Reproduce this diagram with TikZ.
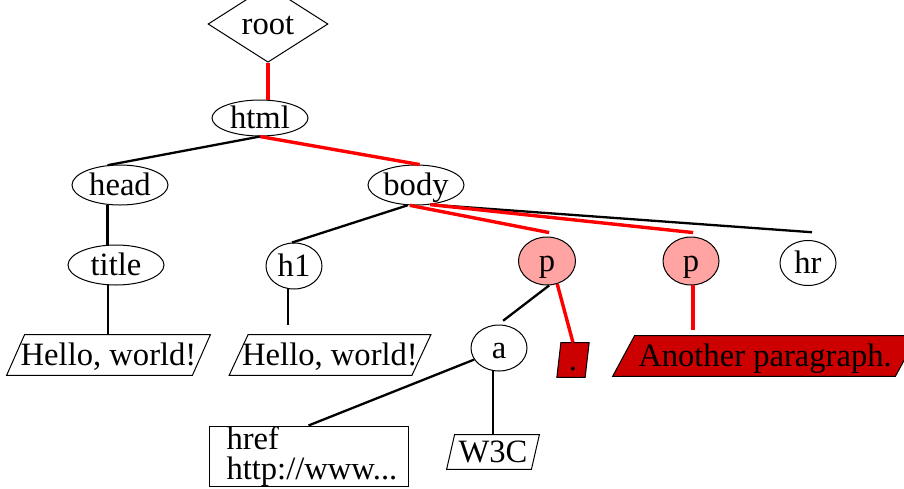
\documentclass[tikz,border=0pt]{standalone}
\usepackage{fontspec}
\setmainfont{Liberation Serif}
\usetikzlibrary{shapes.geometric,backgrounds,calc}
\definecolor{pfill}{RGB}{255,163,163}
\definecolor{dred}{RGB}{204,0,0}
\newcommand\paraoutline[3]{%
  \draw[#3] ([xshift=#2]#1.north west) -- ([xshift=#2]#1.north east) --
    ([xshift=-#2]#1.south east) -- ([xshift=-#2]#1.south west) -- cycle;}
\begin{document}
\begin{tikzpicture}[x=0.5pt,y=-0.5pt,
  every node/.style={font=\fontsize{16.3}{15}\selectfont, inner sep=0pt},
  el/.style={ellipse, draw, line width=0.5pt, text height=11pt, text depth=1pt},
  hl/.style={el, fill=pfill},
  txt/.style={rectangle, text height=11pt, text depth=1pt},
  bk/.style={draw=black, line width=1.15pt},
  rd/.style={draw=red, line width=1.7pt},
  outl/.style={draw=black, line width=0.5pt}]
\useasboundingbox (0,0) rectangle (904,488);
% tree nodes
\node[diamond, draw, line width=0.5pt, minimum width=60pt, minimum height=19pt,
      text height=11pt, text depth=1pt] (root) at (268,24) {root};
\node[el, minimum width=48pt, minimum height=18pt] (html) at (260,118) {html};
\node[el, minimum width=48pt, minimum height=20pt] (head) at (120,185) {head};
\node[el, minimum width=48pt, minimum height=20pt] (body) at (416,185) {body};
\node[el, minimum width=48pt, minimum height=20pt] (title) at (116,265) {title};
\node[el, minimum width=28pt, minimum height=23pt] (h1) at (294,266) {h1};
\node[hl, minimum width=28.5pt, minimum height=24pt] (p1) at (547,261) {p};
\node[hl, minimum width=28pt, minimum height=24pt] (p2) at (691,261) {p};
\node[el, minimum width=28pt, minimum height=22.5pt] (hr) at (808,263) {hr};
\node[el, minimum width=28pt, minimum height=23pt] (a) at (499,348) {a};
% text leaves
\node[txt, minimum width=92.5pt, minimum height=20pt] (hello1) at (108.5,355) {Hello, world!};
\node[txt, minimum width=91pt, minimum height=20pt] (hello2) at (330,355) {Hello, world!};
\node[txt, minimum width=13.75pt, minimum height=17pt] (dot) at (573,360) {.};
\node[txt, minimum width=141pt, minimum height=20pt] (another) at (765,356) {Another paragraph.};
\node[txt, minimum width=42pt, minimum height=17pt] (w3c) at (493,452) {W3C};
\node[draw, line width=0.5pt, minimum height=30pt, text width=82pt, inner xsep=8.75pt,
      align=left] (href) at (308.5,456) {href\\http://www...};
\begin{pgfonlayer}{background}
\fill[white] (0,0) rectangle (904,488);
\paraoutline{hello1}{4.5pt}{outl, fill=white}
\paraoutline{hello2}{4.75pt}{outl, fill=white}
\paraoutline{dot}{1pt}{outl, fill=dred}
\paraoutline{another}{5.5pt}{outl, fill=dred}
\paraoutline{w3c}{2pt}{outl, fill=white}
\end{pgfonlayer}
% connectors
\coordinate (e1) at (h1.255 |- hello2.north);
\coordinate (e2) at (p2.275 |- another.north);
\draw[rd] (root.south) -- (root.south |- html.north);
\draw[bk] (html.south) -- (head.122);
\draw[rd] (html.south) -- (body.80);
\draw[bk] (head.238) -- (head.238 |- title.north);
\draw[bk] (title.248) -- (title.248 |- hello1.north);
\draw[bk] (body.248) -- (h1.95);
\draw[bk] (body.306) -- ([yshift=4pt]hr.80);
\draw[rd] (body.253) -- ([yshift=2pt]p1.85);
\draw[rd] (body.306) -- ([yshift=2pt]p2.85);
\draw[bk] (h1.255) -- ($(e1)+(0,-10)$);
\draw[bk] (p1.275) -- ([yshift=2pt]a.80);
\draw[rd] (p1.294) -- (dot.north);
\draw[rd] (p2.275) -- ($(e2)+(0,-6)$);
\draw[bk] (a.205) -- (href.north);
\draw[bk] (a.255) -- (a.255 |- w3c.north);
\end{tikzpicture}
\end{document}
